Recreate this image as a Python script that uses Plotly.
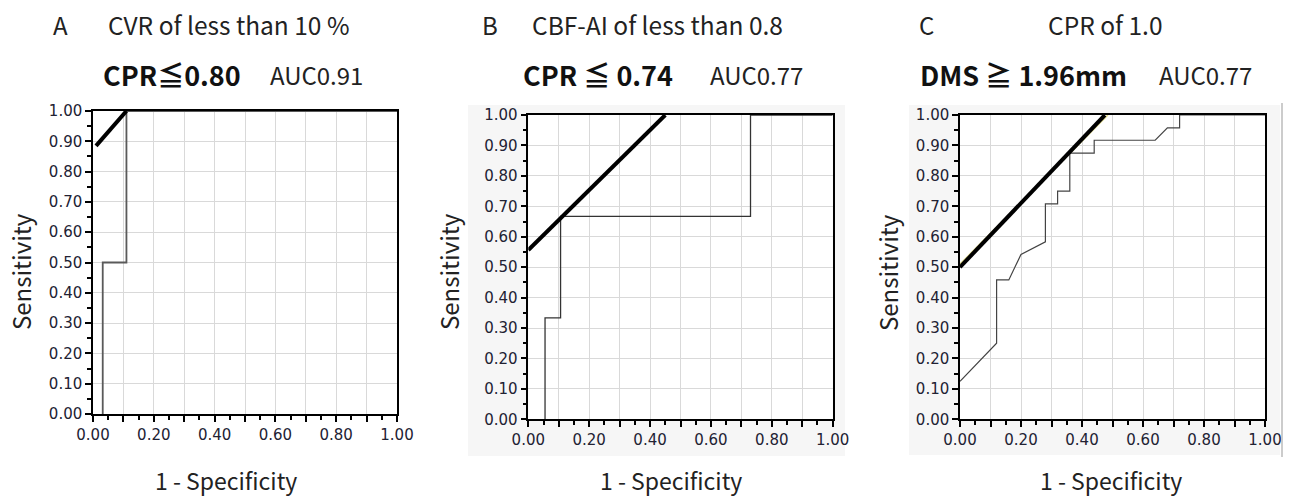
import plotly.graph_objects as go

OFF = 0
W, H = 1290, 500

# ---------------- data ----------------
a_fpr = [0.032, 0.032, 0.11, 0.11, 1.0]
a_tpr = [0.0, 0.5, 0.5, 1.0, 1.0]
a_tan_x = [0.01, 0.11]
a_tan_y = [0.885, 1.0]

b_fpr = [0.055, 0.055, 0.106, 0.106, 0.73, 0.73, 1.0]
b_tpr = [0.0, 0.333, 0.333, 0.667, 0.667, 1.0, 1.0]
b_tan_x = [0.0, 0.45]
b_tan_y = [0.556, 1.0]

c_fpr = [0.0, 0.12, 0.12, 0.16, 0.20, 0.28, 0.28, 0.32, 0.32, 0.36, 0.36,
         0.44, 0.44, 0.64, 0.68, 0.72, 0.72, 1.0]
c_tpr = [0.125, 0.25, 0.458, 0.458, 0.542, 0.583, 0.708, 0.708, 0.75, 0.75,
         0.875, 0.875, 0.917, 0.917, 0.958, 0.958, 1.0, 1.0]
c_tan_x = [0.0, 0.475]
c_tan_y = [0.5, 1.0]
c_tan2_x = [0.0, 0.485]
c_tan2_y = [0.51, 1.0]

panel_letters = ["A", "B", "C"]
panel_titles = ["CVR of less than 10 %", "CBF-AI of less than 0.8", "CPR of 1.0"]
cutoffs = ["CPR≦0.80", "CPR ≦ 0.74", "DMS ≧ 1.96mm"]
aucs = ["AUC0.91", "AUC0.77", "AUC0.77"]

tick_vals = [round(i * 0.1, 2) for i in range(11)]
x_tick_text = [f"{v:.2f}" if i % 2 == 0 else "" for i, v in enumerate(tick_vals)]
y_tick_text = [f"{v:.2f}" for v in tick_vals]

# ---------------- layout helpers (screen px -> paper) ----------------
def px_x(p):
    return (p - OFF) / W

def px_y(p):
    return 1 - (p - OFF) / H

boxes = [  # left, right, top, bottom in screen px
    (93, 397, 111, 414),
    (528.3, 832.7, 115, 419.3),
    (960, 1265, 115, 419.3),
]

TXT_FONT = "Noto Sans CJK JP"
TICK_FONT = dict(family="DejaVu Sans", size=15, color="#222233")

fig = go.Figure()

curves = [
    (a_fpr, a_tpr, a_tan_x, a_tan_y, "#5a5a5a", 1.8),
    (b_fpr, b_tpr, b_tan_x, b_tan_y, "#333333", 1.3),
    (c_fpr, c_tpr, c_tan_x, c_tan_y, "#444444", 1.2),
]

for i, (fx, fy, tx, ty, col, lw) in enumerate(curves):
    ax = "" if i == 0 else str(i + 1)
    if i == 2:
        fig.add_trace(go.Scatter(x=c_tan2_x, y=c_tan2_y, mode="lines",
                                 line=dict(color="#e6df8c", width=1.5),
                                 xaxis="x" + ax, yaxis="y" + ax, showlegend=False,
                                 hoverinfo="skip"))
    fig.add_trace(go.Scatter(x=fx, y=fy, mode="lines",
                             line=dict(color=col, width=lw),
                             xaxis="x" + ax, yaxis="y" + ax, showlegend=False))
    fig.add_trace(go.Scatter(x=tx, y=ty, mode="lines",
                             line=dict(color="black", width=4),
                             xaxis="x" + ax, yaxis="y" + ax, showlegend=False))

layout = dict(
    width=W, height=H, autosize=False,
    margin=dict(l=0, r=0, t=0, b=0, pad=0),
    paper_bgcolor="white",
    plot_bgcolor="white",
    showlegend=False,
)

common_axis = dict(
    range=[0, 1], showline=True, linecolor="black", linewidth=1.5, mirror=True,
    showgrid=True, gridcolor="#d9d9d9", gridwidth=1, zeroline=False,
    ticks="outside", ticklen=6, tickwidth=1.5, tickcolor="black",
    tickfont=TICK_FONT, tickmode="array", tickvals=tick_vals,
    minor=dict(dtick=0.05, tick0=0, ticks="outside", ticklen=4, tickwidth=1.5,
               tickcolor="black", showgrid=False),
    fixedrange=True, automargin=False,
)

for i, (l, r, t, b) in enumerate(boxes):
    ax = "" if i == 0 else str(i + 1)
    layout["xaxis" + ax] = dict(common_axis, domain=[px_x(l), px_x(r)],
                                anchor="y" + ax, ticktext=x_tick_text)
    layout["yaxis" + ax] = dict(common_axis, domain=[px_y(b), px_y(t)],
                                anchor="x" + ax, ticktext=y_tick_text)

shapes = []
# light gray panel backgrounds for B and C
for (gl, gr, gt, gb), (l, r, t, b) in [((468, 845, 105, 456), boxes[1]),
                                       ((909, 1280, 105, 455), boxes[2])]:
    shapes.append(dict(type="rect", xref="paper", yref="paper",
                       x0=px_x(gl), x1=px_x(gr), y0=px_y(gb), y1=px_y(gt),
                       fillcolor="#f6f6f6", line=dict(width=0), layer="below"))
    shapes.append(dict(type="rect", xref="paper", yref="paper",
                       x0=px_x(l), x1=px_x(r), y0=px_y(b), y1=px_y(t),
                       fillcolor="white", line=dict(width=0), layer="below"))
shapes.append(dict(type="line", xref="paper", yref="paper",
                   x0=px_x(1282), x1=px_x(1282), y0=px_y(457), y1=px_y(103),
                   line=dict(color="#bbbbbb", width=1.5)))
layout["shapes"] = shapes

ann = []
letter_x = [51, 480, 917]
title_x = [106, 530, 1046]
cut_x = [101, 521, 918]
auc_x = [268, 708, 1157]
sens_x = [20, 448, 887]
spec_x = [226, 671, 1111]

for i in range(3):
    ann.append(dict(text=panel_letters[i], x=px_x(letter_x[i]), y=px_y(24),
                    xref="paper", yref="paper", xanchor="left", yanchor="middle",
                    showarrow=False, font=dict(family=TXT_FONT, size=24, color="#222")))
    ann.append(dict(text=panel_titles[i], x=px_x(title_x[i]), y=px_y(24),
                    xref="paper", yref="paper", xanchor="left", yanchor="middle",
                    showarrow=False, font=dict(family=TXT_FONT, size=24.5, color="#222")))
    ann.append(dict(text="<b>" + cutoffs[i] + "</b>", x=px_x(cut_x[i]), y=px_y(74),
                    xref="paper", yref="paper", xanchor="left", yanchor="middle",
                    showarrow=False, font=dict(family=TXT_FONT, size=27, color="#111")))
    ann.append(dict(text=aucs[i], x=px_x(auc_x[i]), y=px_y(74),
                    xref="paper", yref="paper", xanchor="left", yanchor="middle",
                    showarrow=False, font=dict(family=TXT_FONT, size=24, color="#222")))
    ann.append(dict(text="Sensitivity", x=px_x(sens_x[i]), y=px_y(272),
                    xref="paper", yref="paper", xanchor="center", yanchor="middle",
                    textangle=-90, showarrow=False,
                    font=dict(family=TXT_FONT, size=24, color="#222")))
    ann.append(dict(text="1 - Specificity", x=px_x(spec_x[i]), y=px_y(499),
                    xref="paper", yref="paper", xanchor="center", yanchor="bottom",
                    showarrow=False, font=dict(family=TXT_FONT, size=23, color="#222")))
layout["annotations"] = ann

fig.update_layout(**layout)
fig.write_html("out.html", config={"displayModeBar": False},
               post_script="document.body.style.margin='0';"
                           "document.body.style.overflow='hidden';")
